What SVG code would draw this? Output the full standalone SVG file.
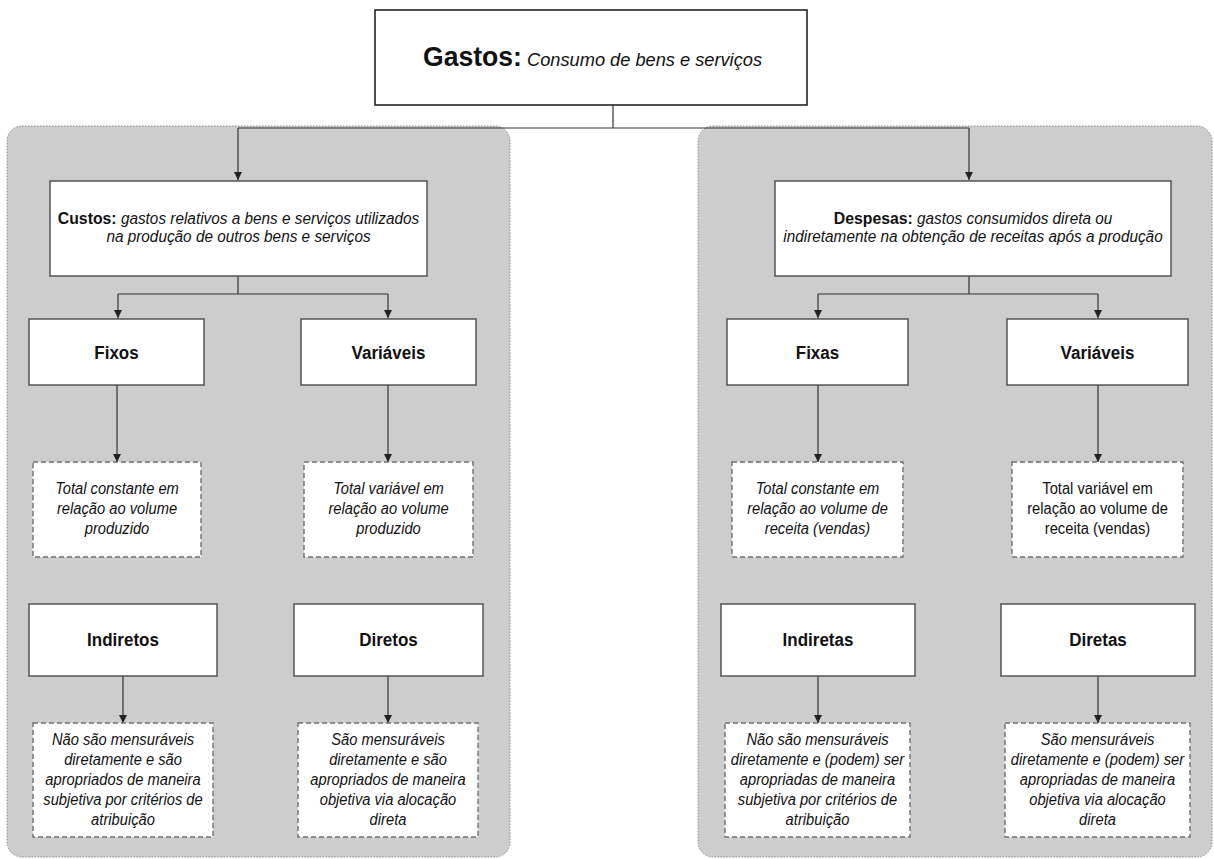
<svg xmlns="http://www.w3.org/2000/svg" width="1214" height="859" viewBox="0 0 1214 859">
  <style>
    .panel { fill: #cdcdcd; stroke: #8a8a8a; stroke-width: 1; stroke-dasharray: 1.5 1.5; }
    .box { fill: #ffffff; stroke: #4a4a4a; stroke-width: 1.4; }
    .note { fill: #ffffff; stroke: #707070; stroke-width: 1.4; stroke-dasharray: 5 3; }
    .link { fill: none; stroke: #333333; stroke-width: 1.2; }
    text { font-family: "Liberation Sans", Arial, sans-serif; fill: #111111; text-anchor: middle; }
    .title { font-size: 27px; font-weight: bold; }
    .sub { font-size: 18.5px; font-style: italic; font-weight: normal; }
    .hdr { font-size: 17px; font-weight: bold; }
    .hdri { font-size: 16.5px; font-style: italic; font-weight: normal; }
    .lbl { font-size: 18.5px; font-weight: bold; }
    .txt { font-size: 16px; font-style: italic; }
    .txtn { font-size: 16px; font-style: normal; }
  </style>
  <defs>
    <marker id="arrow" viewBox="0 0 10 10" refX="10" refY="5" markerWidth="8" markerHeight="8" markerUnits="userSpaceOnUse" orient="auto">
      <path d="M0,0 L10,5 L0,10 z" fill="#222222"/>
    </marker>
  </defs>

  <rect width="1214" height="859" fill="#ffffff"/>

  <!-- grey panels grouping costs and expenses -->
  <g id="panel-custos"><rect class="panel" x="7" y="126" width="503" height="731" rx="15" ry="15"/></g>
  <g id="panel-despesas"><rect class="panel" x="698" y="126" width="514" height="731" rx="15" ry="15"/></g>

  <!-- connectors -->
  <g id="connectors">
    <path class="link" d="M613,105 V128 M238,128 H969"/>
    <path class="link" d="M238,128 V180" marker-end="url(#arrow)"/>
    <path class="link" d="M969,128 V180" marker-end="url(#arrow)"/>

    <path class="link" d="M238,276 V294 M118,294 H388"/>
    <path class="link" d="M118,294 V318" marker-end="url(#arrow)"/>
    <path class="link" d="M388,294 V318" marker-end="url(#arrow)"/>

    <path class="link" d="M969,276 V294 M818,294 H1098"/>
    <path class="link" d="M818,294 V318" marker-end="url(#arrow)"/>
    <path class="link" d="M1098,294 V318" marker-end="url(#arrow)"/>

    <path class="link" d="M117,385 V462" marker-end="url(#arrow)"/>
    <path class="link" d="M388,385 V462" marker-end="url(#arrow)"/>
    <path class="link" d="M818,385 V462" marker-end="url(#arrow)"/>
    <path class="link" d="M1098,385 V462" marker-end="url(#arrow)"/>

    <path class="link" d="M123,676 V723" marker-end="url(#arrow)"/>
    <path class="link" d="M388,676 V723" marker-end="url(#arrow)"/>
    <path class="link" d="M818,676 V723" marker-end="url(#arrow)"/>
    <path class="link" d="M1098,676 V723" marker-end="url(#arrow)"/>
  </g>

  <!-- top node -->
  <g id="gastos">
    <rect x="375" y="10" width="432" height="95" fill="#ffffff" stroke="#222222" stroke-width="1.6"/>
    <g transform="translate(592.5,0) scale(0.985,1)">
      <text x="0" y="66"><tspan class="title">Gastos:</tspan><tspan class="sub"> Consumo de bens e serviços</tspan></text>
    </g>
  </g>

  <!-- costs branch -->
  <g id="custos">
    <rect class="box" x="50" y="181" width="377" height="95"/>
    <g transform="translate(238.5,0) scale(0.93,1)">
      <text x="0" y="224"><tspan class="hdr">Custos:</tspan><tspan class="hdri"> gastos relativos a bens e serviços utilizados</tspan></text>
      <text class="hdri" x="0" y="242">na produção de outros bens e serviços</text>
    </g>
  </g>
  <g id="custos-fixos">
    <rect class="box" x="29" y="319" width="175" height="66"/>
    <g transform="translate(116.5,0) scale(0.92,1)"><text class="lbl" x="0" y="359">Fixos</text></g>
  </g>
  <g id="custos-variaveis">
    <rect class="box" x="301" y="319" width="175" height="66"/>
    <g transform="translate(388.5,0) scale(0.92,1)"><text class="lbl" x="0" y="359">Variáveis</text></g>
  </g>
  <g id="custos-fixos-nota">
    <rect class="note" x="33" y="462" width="168" height="95"/>
    <g transform="translate(117,0) scale(0.92,1)">
      <text class="txt" x="0" y="494">Total constante em</text>
      <text class="txt" x="0" y="514">relação ao volume</text>
      <text class="txt" x="0" y="534">produzido</text>
    </g>
  </g>
  <g id="custos-variaveis-nota">
    <rect class="note" x="304" y="462" width="169" height="95"/>
    <g transform="translate(388.5,0) scale(0.92,1)">
      <text class="txt" x="0" y="494">Total variável em</text>
      <text class="txt" x="0" y="514">relação ao volume</text>
      <text class="txt" x="0" y="534">produzido</text>
    </g>
  </g>
  <g id="custos-indiretos">
    <rect class="box" x="29" y="604" width="188" height="72"/>
    <g transform="translate(123,0) scale(0.92,1)"><text class="lbl" x="0" y="646">Indiretos</text></g>
  </g>
  <g id="custos-diretos">
    <rect class="box" x="294" y="604" width="189" height="72"/>
    <g transform="translate(388.5,0) scale(0.92,1)"><text class="lbl" x="0" y="646">Diretos</text></g>
  </g>
  <g id="custos-indiretos-nota">
    <rect class="note" x="33" y="723" width="180" height="114"/>
    <g transform="translate(123,0) scale(0.92,1)">
      <text class="txt" x="0" y="745">Não são mensuráveis</text>
      <text class="txt" x="0" y="765">diretamente e são</text>
      <text class="txt" x="0" y="785">apropriados de maneira</text>
      <text class="txt" x="0" y="805">subjetiva por critérios de</text>
      <text class="txt" x="0" y="825">atribuição</text>
    </g>
  </g>
  <g id="custos-diretos-nota">
    <rect class="note" x="298" y="723" width="180" height="114"/>
    <g transform="translate(388,0) scale(0.92,1)">
      <text class="txt" x="0" y="745">São mensuráveis</text>
      <text class="txt" x="0" y="765">diretamente e são</text>
      <text class="txt" x="0" y="785">apropriados de maneira</text>
      <text class="txt" x="0" y="805">objetiva via alocação</text>
      <text class="txt" x="0" y="825">direta</text>
    </g>
  </g>

  <!-- expenses branch -->
  <g id="despesas">
    <rect class="box" x="775" y="181" width="396" height="95"/>
    <g transform="translate(973,0) scale(0.93,1)">
      <text x="0" y="224"><tspan class="hdr">Despesas:</tspan><tspan class="hdri"> gastos consumidos direta ou</tspan></text>
      <text class="hdri" x="0" y="242">indiretamente na obtenção de receitas após a produção</text>
    </g>
  </g>
  <g id="despesas-fixas">
    <rect class="box" x="727" y="319" width="181" height="66"/>
    <g transform="translate(817.5,0) scale(0.92,1)"><text class="lbl" x="0" y="359">Fixas</text></g>
  </g>
  <g id="despesas-variaveis">
    <rect class="box" x="1007" y="319" width="181" height="66"/>
    <g transform="translate(1097.5,0) scale(0.92,1)"><text class="lbl" x="0" y="359">Variáveis</text></g>
  </g>
  <g id="despesas-fixas-nota">
    <rect class="note" x="732" y="462" width="171" height="95"/>
    <g transform="translate(817.5,0) scale(0.92,1)">
      <text class="txt" x="0" y="494">Total constante em</text>
      <text class="txt" x="0" y="514">relação ao volume de</text>
      <text class="txt" x="0" y="534">receita (vendas)</text>
    </g>
  </g>
  <g id="despesas-variaveis-nota">
    <rect class="note" x="1012" y="462" width="171" height="95"/>
    <g transform="translate(1097.5,0) scale(0.92,1)">
      <text class="txtn" x="0" y="494">Total variável em</text>
      <text class="txtn" x="0" y="514">relação ao volume de</text>
      <text class="txtn" x="0" y="534">receita (vendas)</text>
    </g>
  </g>
  <g id="despesas-indiretas">
    <rect class="box" x="721" y="604" width="194" height="72"/>
    <g transform="translate(818,0) scale(0.92,1)"><text class="lbl" x="0" y="646">Indiretas</text></g>
  </g>
  <g id="despesas-diretas">
    <rect class="box" x="1001" y="604" width="194" height="72"/>
    <g transform="translate(1098,0) scale(0.92,1)"><text class="lbl" x="0" y="646">Diretas</text></g>
  </g>
  <g id="despesas-indiretas-nota">
    <rect class="note" x="725" y="723" width="185" height="114"/>
    <g transform="translate(817.5,0) scale(0.92,1)">
      <text class="txt" x="0" y="745">Não são mensuráveis</text>
      <text class="txt" x="0" y="765">diretamente e (podem) ser</text>
      <text class="txt" x="0" y="785">apropriadas de maneira</text>
      <text class="txt" x="0" y="805">subjetiva por critérios de</text>
      <text class="txt" x="0" y="825">atribuição</text>
    </g>
  </g>
  <g id="despesas-diretas-nota">
    <rect class="note" x="1005" y="723" width="185" height="114"/>
    <g transform="translate(1097.5,0) scale(0.92,1)">
      <text class="txt" x="0" y="745">São mensuráveis</text>
      <text class="txt" x="0" y="765">diretamente e (podem) ser</text>
      <text class="txt" x="0" y="785">apropriadas de maneira</text>
      <text class="txt" x="0" y="805">objetiva via alocação</text>
      <text class="txt" x="0" y="825">direta</text>
    </g>
  </g>
</svg>
